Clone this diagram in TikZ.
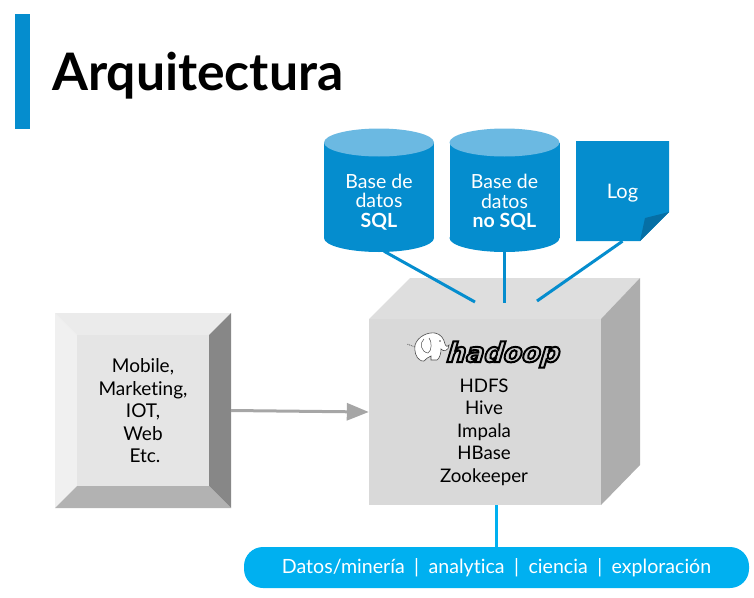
\documentclass[tikz,border=0pt]{standalone}
\usepackage{fontspec}
\setmainfont{Lato}[Ligatures=CommonOff]
\newfontfamily\logofont[FakeSlant=0.3]{DejaVu Sans Bold}
\usetikzlibrary{shapes.geometric, arrows.meta, positioning, calc, backgrounds}
\definecolor{slideBlue}{HTML}{058DCE}
\definecolor{slideBlueLight}{HTML}{6BB9E2}
\definecolor{slideBlueDark}{HTML}{066FA5}
\definecolor{pillBlue}{HTML}{00B0F0}
\definecolor{arrowGray}{HTML}{A6A6A6}

\begin{document}
\begin{tikzpicture}[
    x=1pt, y=-1pt,
    font=\fontsize{19}{22.5}\selectfont,
    % Label On A Blue Shape
    dblabel/.style={
        align=center,
        inner sep=0pt,
        text=white,
        font=\fontsize{19.5}{19.5}\selectfont
    },
    % Plain Text Block
    stack/.style={
        align=center,
        inner sep=0pt,
        text=black
    },
    % Blue Link To The Cluster
    link/.style={
        draw=slideBlue,
        line width=3pt
    },
    % Bevel Face
    face/.style={
        rectangle,
        inner sep=0pt,
        align=center
    }
]
    \useasboundingbox (0,0) rectangle (754,597);

    % Title
    \node (titlebar) [fill=slideBlue, minimum width=15pt, minimum height=115pt, inner sep=0pt] at (22.5,71.5) {};
    \node (title) [anchor=base west, inner sep=0pt, font=\fontsize{51.7}{51.7}\selectfont\bfseries] at (52,90) {Arquitectura};

    % Sources
    \foreach \canx/\canname in {379/sql, 504.5/nosql} {
        \fill[slideBlue] (\canx,238) ellipse [x radius=55, y radius=14];
        \fill[slideBlue] (\canx-55,143) rectangle (\canx+55,238);
        \fill[slideBlueLight] (\canx,142.5) ellipse [x radius=55, y radius=14];
        \node (\canname) [face, minimum width=110pt, minimum height=124pt] at (\canx,190) {};
    }
    \node (sqltext) [dblabel] at (379,202) {Base de\\datos\\\textbf{SQL}};
    \node (nosqltext) [dblabel] at (504.5,202.5) {Base de\\datos\\\textbf{no SQL}};
    \fill[slideBlue] (576,141) -- (669,141) -- (669,212) -- (640,241) -- (576,241) -- cycle;
    \fill[slideBlueDark] (669,212) -- (645,218) -- (640,241) -- cycle;
    \node (log) [face, minimum width=93pt, minimum height=100pt, text=white, font=\fontsize{20}{22}\selectfont] at (622.5,193) {Log};

    % Left Bevel Box
    \fill[black!6] (55,313) -- (77,335) -- (77,486) -- (55,508) -- cycle;
    \fill[black!8] (55,313) -- (231,313) -- (209,335) -- (77,335) -- cycle;
    \fill[black!47] (231,313) -- (231,508) -- (209,486) -- (209,335) -- cycle;
    \fill[black!30] (55,508) -- (77,486) -- (209,486) -- (231,508) -- cycle;
    \node (mobile) [face, fill=black!10, minimum width=132pt, minimum height=151pt] at (143,410.5) {};
    \node (mobiletext) [stack] at (143,411) {Mobile,\\Marketing,\\IOT,\\Web\\\hspace*{4pt}Etc.};

    % Hadoop Block
    \fill[black!13] (369,319) -- (410,278) -- (640,278) -- (601,319) -- cycle;
    \fill[black!32] (601,319) -- (640,278) -- (640,465) -- (601,505) -- cycle;
    \node (hadoop) [face, fill=black!15, minimum width=232pt, minimum height=186pt] at (485,412) {};
    \node (services) [stack, font=\fontsize{18.7}{22.5}\selectfont] at (484,432) {HDFS\\Hive\\Impala\\HBase\\Zookeeper};

    % Hadoop Logo
    \filldraw[draw=black!70, fill=white, line width=0.6pt]
        (415,345) .. controls (418,336) and (428,332) .. (435,333)
        .. controls (441,334) and (444,339) .. (445,344)
        .. controls (446,347) and (448,347) .. (449,345)
        .. controls (449,351) and (443,352) .. (441,349)
        .. controls (441,353) and (440,358) .. (437,360)
        -- (431,360) -- (431,356)
        .. controls (428,357) and (426,359) .. (424,361)
        .. controls (422,361) and (421,361) .. (420,360)
        .. controls (416,358) and (414,351) .. (415,345) -- cycle;
    \draw[draw=black!70, line width=0.5pt] (424,339) .. controls (419,343) and (421,352) .. (428,353) .. controls (432,351) and (432,341) .. (429,338);
    \fill[black!70] (440,341) circle [radius=0.8];
    \draw[draw=black!70, line width=0.8pt, densely dotted] (415,347) -- (407,344);
    \node (hadooplogo) [anchor=base, inner sep=0pt, font=\logofont\fontsize{27}{27}\selectfont] at (501.5,362) {\special{pdf: code 2 Tr 2 w 0 G 0.8 g}hadoop\special{pdf: code 0 Tr}};

    % Analytics Pill
    \node (pill) [rectangle, rounded corners=19pt, fill=pillBlue, text=white, minimum width=505pt, minimum height=41pt, inner sep=0pt, font=\fontsize{19.6}{22}\selectfont] at (496.5,567.5) {\raisebox{-3pt}{Datos/minería\hspace{9.5pt}|\hspace{9.5pt}analytica\hspace{9.5pt}|\hspace{9.5pt}ciencia\hspace{9.5pt}|\hspace{9.5pt}exploración}};

    % Connector Arrows
    \coordinate (sqlend) at (475,302);
    \coordinate (nosqlend) at (504.5,303);
    \coordinate (logend) at (537,301);
    \draw [link] ([xshift=5pt,yshift=1pt]sql.south) -- (sqlend);
    \draw [link] ([yshift=1pt]nosql.south) -- (nosqlend);
    \draw [link] ([yshift=2pt]log.south) -- (logend);
    \draw [draw=pillBlue, line width=3pt] (pill.north) -- (pill.north |- hadoop.south);
    \draw [draw=arrowGray, line width=3pt, -{Triangle[length=22pt,width=17pt]}] (mobile.east -| 231,0) -- (hadoop.west);

\end{tikzpicture}
\end{document}
